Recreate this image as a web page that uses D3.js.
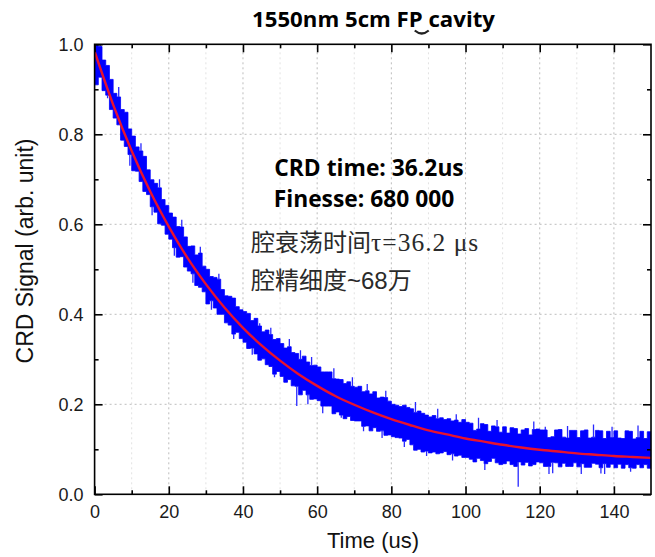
<!DOCTYPE html>
<html>
<head>
<meta charset="utf-8">
<script src="https://cdn.jsdelivr.net/npm/d3@7"></script>
<style>
  html, body { margin: 0; padding: 0; background: #fff; }
  svg { display: block; }
</style>
</head>
<body>
<svg id="chart" width="655" height="557"></svg>
<script>
(function () {
    'use strict';

    const WIDTH = 655;
    const HEIGHT = 557;

    // ring-down trace, min / max of the signal for each microsecond (0..150 us)
    const signalHigh = [
        1.000, 0.995, 0.965, 0.953, 0.922, 0.891, 0.883, 0.855, 0.849, 0.812,
        0.796, 0.772, 0.763, 0.751, 0.721, 0.699, 0.691, 0.681, 0.655, 0.642,
        0.625, 0.616, 0.595, 0.594, 0.572, 0.551, 0.552, 0.532, 0.536, 0.507,
        0.500, 0.484, 0.482, 0.478, 0.455, 0.441, 0.440, 0.436, 0.417, 0.410,
        0.406, 0.402, 0.386, 0.391, 0.374, 0.361, 0.365, 0.355, 0.344, 0.346,
        0.335, 0.325, 0.328, 0.315, 0.313, 0.300, 0.307, 0.294, 0.286, 0.287,
        0.283, 0.272, 0.272, 0.272, 0.257, 0.256, 0.255, 0.246, 0.250, 0.240,
        0.238, 0.240, 0.228, 0.230, 0.223, 0.228, 0.214, 0.216, 0.215, 0.207,
        0.200, 0.198, 0.195, 0.198, 0.193, 0.190, 0.182, 0.185, 0.180, 0.176,
        0.172, 0.175, 0.168, 0.170, 0.166, 0.168, 0.163, 0.165, 0.160, 0.166,
        0.160, 0.158, 0.142, 0.145, 0.157, 0.155, 0.140, 0.152, 0.150, 0.138,
        0.150, 0.136, 0.148, 0.146, 0.134, 0.143, 0.146, 0.132, 0.144, 0.145,
        0.143, 0.143, 0.126, 0.128, 0.143, 0.144, 0.127, 0.125, 0.142, 0.142,
        0.126, 0.141, 0.143, 0.125, 0.127, 0.142, 0.141, 0.124, 0.140, 0.126,
        0.141, 0.125, 0.124, 0.141, 0.140, 0.123, 0.126, 0.140, 0.124, 0.139, 0.123
    ];
    const signalLow = [
        0.910, 0.927, 0.897, 0.887, 0.855, 0.836, 0.821, 0.787, 0.773, 0.755,
        0.719, 0.718, 0.695, 0.673, 0.666, 0.639, 0.627, 0.601, 0.598, 0.578,
        0.567, 0.548, 0.527, 0.528, 0.505, 0.496, 0.490, 0.464, 0.460, 0.450,
        0.423, 0.430, 0.414, 0.400, 0.400, 0.381, 0.376, 0.356, 0.360, 0.346,
        0.338, 0.324, 0.325, 0.312, 0.298, 0.301, 0.288, 0.284, 0.267, 0.273,
        0.262, 0.249, 0.255, 0.241, 0.240, 0.221, 0.231, 0.221, 0.211, 0.212,
        0.208, 0.196, 0.196, 0.196, 0.179, 0.183, 0.176, 0.168, 0.173, 0.164,
        0.163, 0.163, 0.151, 0.152, 0.141, 0.148, 0.140, 0.141, 0.131, 0.132,
        0.128, 0.126, 0.125, 0.118, 0.122, 0.110, 0.098, 0.100, 0.094, 0.096,
        0.092, 0.094, 0.090, 0.092, 0.095, 0.088, 0.090, 0.085, 0.087, 0.082,
        0.082, 0.078, 0.072, 0.080, 0.075, 0.068, 0.073, 0.080, 0.070, 0.066,
        0.068, 0.074, 0.066, 0.062, 0.072, 0.065, 0.071, 0.063, 0.066, 0.072,
        0.070, 0.062, 0.062, 0.071, 0.070, 0.061, 0.069, 0.062, 0.062, 0.070,
        0.061, 0.068, 0.060, 0.060, 0.069, 0.067, 0.059, 0.068, 0.060, 0.067,
        0.059, 0.067, 0.058, 0.066, 0.059, 0.058, 0.066, 0.059, 0.066, 0.058, 0.065
    ];

    // single-sample noise spikes [time us, value]
    const spikesUp = [
        [1.5, 1.0], [6.5, 0.905], [12.5, 0.78], [17.5, 0.70], [23.5, 0.61],
        [28.5, 0.55], [33.5, 0.49], [39.5, 0.41], [44.5, 0.38], [47.5, 0.37],
        [52.5, 0.345], [55.5, 0.32], [58.5, 0.305], [64.5, 0.28], [69.5, 0.26],
        [73.5, 0.245], [78.5, 0.23], [86.5, 0.205], [92.5, 0.19], [97.5, 0.178],
        [103.5, 0.17], [108.5, 0.165], [118.4, 0.162], [121.5, 0.15], [127.5, 0.152],
        [134.5, 0.155], [139.5, 0.15], [146.5, 0.153]
    ];
    const spikesDown = [
        [3.5, 0.88], [9.5, 0.73], [15.5, 0.62], [21.5, 0.53], [26.5, 0.47],
        [31.5, 0.41], [37.5, 0.345], [42.5, 0.31], [48.5, 0.26], [54.5, 0.196],
        [57.5, 0.20], [61.5, 0.18], [66.5, 0.17], [72.5, 0.14], [77.5, 0.125],
        [83.5, 0.105], [89.5, 0.085], [96.5, 0.075], [105.2, 0.054], [114.2, 0.017],
        [122.5, 0.045], [123.5, 0.047], [131.2, 0.045], [136.5, 0.046], [137.5, 0.045],
        [144.5, 0.05]
    ];

    // exponential fit (tau = 36.2 us)
    const fitTimes = [0, 5, 10, 15, 20, 25, 30, 35, 40, 45, 50, 55, 60, 65, 70, 75,
        80, 85, 90, 95, 100, 105, 110, 115, 120, 125, 130, 135, 140, 145, 150];
    const fitValues = [0.984, 0.866, 0.763, 0.673, 0.595, 0.526, 0.467, 0.415, 0.370,
        0.331, 0.297, 0.267, 0.241, 0.218, 0.199, 0.182, 0.167, 0.154, 0.142, 0.133,
        0.124, 0.117, 0.110, 0.104, 0.099, 0.095, 0.091, 0.088, 0.085, 0.083, 0.081];

    const xMajorTicks = [0, 20, 40, 60, 80, 100, 120, 140];
    const xMinorTicks = [10, 30, 50, 70, 90, 110, 130];
    const yMajorTicks = [0, 0.2, 0.4, 0.6, 0.8, 1.0];
    const yMinorTicks = [0.1, 0.3, 0.5, 0.7, 0.9];

    const svg = d3.select('#chart').attr('width', WIDTH).attr('height', HEIGHT);

    const x = d3.scaleLinear().domain([0, 150]).range([94.6, 651]);
    const y = d3.scaleLinear().domain([0, 1]).range([494.3, 44.3]);

    svg.append('defs').append('clipPath').attr('id', 'plot-clip')
        .append('rect')
        .attr('x', x(0)).attr('y', y(1))
        .attr('width', x(150) - x(0)).attr('height', y(0) - y(1));

    // grid
    let grid = svg.append('g');
    grid.selectAll('.vminor').data(xMinorTicks).join('line')
        .attr('x1', d => x(d)).attr('x2', d => x(d))
        .attr('y1', y(0)).attr('y2', y(1))
        .attr('stroke', '#e2e2e2').attr('stroke-dasharray', '2,3');
    grid.selectAll('.vmajor').data(xMajorTicks.slice(1)).join('line')
        .attr('x1', d => x(d)).attr('x2', d => x(d))
        .attr('y1', y(0)).attr('y2', y(1))
        .attr('stroke', '#bdbdbd').attr('stroke-dasharray', '2,3');
    grid.selectAll('.hmajor').data(yMajorTicks.slice(1, -1)).join('line')
        .attr('x1', x(0)).attr('x2', x(150))
        .attr('y1', d => y(d)).attr('y2', d => y(d))
        .attr('stroke', '#bdbdbd').attr('stroke-dasharray', '2,3');

    // trace
    let plot = svg.append('g').attr('clip-path', 'url(#plot-clip)');
    let band = signalHigh.map((hi, i) => ({t: i, hi: hi, lo: signalLow[i]}));

    plot.append('path')
        .datum(band)
        .attr('fill', '#0000ff')
        .attr('stroke', '#0000ff')
        .attr('stroke-width', 0.8)
        .attr('d', d3.area()
            .x(d => x(d.t))
            .y0(d => y(d.lo))
            .y1(d => y(d.hi))
            .curve(d3.curveStepAfter));

    plot.selectAll('.spike-up').data(spikesUp).join('line')
        .attr('x1', d => x(d[0])).attr('x2', d => x(d[0]))
        .attr('y1', d => y(signalHigh[Math.floor(d[0])])).attr('y2', d => y(d[1]))
        .attr('stroke', '#2828ff').attr('stroke-width', 1.3);
    plot.selectAll('.spike-down').data(spikesDown).join('line')
        .attr('x1', d => x(d[0])).attr('x2', d => x(d[0]))
        .attr('y1', d => y(signalLow[Math.floor(d[0])])).attr('y2', d => y(d[1]))
        .attr('stroke', '#2828ff').attr('stroke-width', 1.3);

    plot.append('path')
        .datum(fitTimes.map((t, i) => [t, fitValues[i]]))
        .attr('fill', 'none')
        .attr('stroke', '#e8122e')
        .attr('stroke-width', 2.4)
        .attr('d', d3.line()
            .x(d => x(d[0]))
            .y(d => y(d[1]))
            .curve(d3.curveMonotoneX));

    // axes, ticks pointing inward on all four sides
    function styleAxis(g) {
        g.select('.domain').remove();
        g.selectAll('.tick line').attr('stroke', '#000').attr('stroke-width', 1.6);
        g.selectAll('.tick text')
            .attr('fill', '#1a1a1a')
            .attr('font-family', '"Liberation Sans", Arial, sans-serif')
            .attr('font-size', 18);
    }

    svg.append('g').attr('transform', `translate(0,${y(0)})`)
        .call(d3.axisBottom(x).tickValues(xMajorTicks).tickSize(-8).tickPadding(11).tickFormat(d3.format('d')))
        .call(styleAxis);
    svg.append('g').attr('transform', `translate(0,${y(0)})`)
        .call(d3.axisBottom(x).tickValues(xMinorTicks).tickSize(-4).tickFormat(''))
        .call(styleAxis);
    svg.append('g').attr('transform', `translate(0,${y(1)})`)
        .call(d3.axisTop(x).tickValues(xMajorTicks).tickSize(-8).tickFormat(''))
        .call(styleAxis);
    svg.append('g').attr('transform', `translate(0,${y(1)})`)
        .call(d3.axisTop(x).tickValues(xMinorTicks).tickSize(-4).tickFormat(''))
        .call(styleAxis);

    svg.append('g').attr('transform', `translate(${x(0)},0)`)
        .call(d3.axisLeft(y).tickValues(yMajorTicks).tickSize(-8).tickPadding(11).tickFormat(d3.format('.1f')))
        .call(styleAxis);
    svg.append('g').attr('transform', `translate(${x(0)},0)`)
        .call(d3.axisLeft(y).tickValues(yMinorTicks).tickSize(-4).tickFormat(''))
        .call(styleAxis);
    svg.append('g').attr('transform', `translate(${x(150)},0)`)
        .call(d3.axisRight(y).tickValues(yMajorTicks).tickSize(-8).tickFormat(''))
        .call(styleAxis);
    svg.append('g').attr('transform', `translate(${x(150)},0)`)
        .call(d3.axisRight(y).tickValues(yMinorTicks).tickSize(-4).tickFormat(''))
        .call(styleAxis);

    svg.append('rect')
        .attr('x', x(0)).attr('y', y(1))
        .attr('width', x(150) - x(0)).attr('height', y(0) - y(1))
        .attr('fill', 'none').attr('stroke', '#000').attr('stroke-width', 1.6);

    // axis titles
    svg.append('text')
        .attr('x', 373).attr('y', 548)
        .attr('text-anchor', 'middle')
        .attr('font-family', '"Liberation Sans", Arial, sans-serif')
        .attr('font-size', 22)
        .attr('fill', '#111')
        .text('Time (us)');

    svg.append('text')
        .attr('transform', 'translate(33,251) rotate(-90)')
        .attr('text-anchor', 'middle')
        .attr('font-family', '"Liberation Sans", Arial, sans-serif')
        .attr('font-size', 23)
        .attr('fill', '#111')
        .text('CRD Signal (arb. unit)');

    // title
    let title = svg.append('text')
        .attr('x', 373.5).attr('y', 27)
        .attr('text-anchor', 'middle')
        .attr('font-family', '"Open Sans", sans-serif')
        .attr('font-weight', 'bold')
        .attr('font-size', 22.2)
        .attr('fill', '#000')
        .text('1550nm 5cm FP cavity');

    // small stroke under the "P" of the title
    let pIndex = title.text().indexOf('P');
    let pStart = title.node().getStartPositionOfChar(pIndex).x + 6;
    let pEnd = title.node().getEndPositionOfChar(pIndex).x + 6;
    svg.append('path')
        .attr('d', `M${pStart},30.5 Q${(pStart + pEnd) / 2},36.5 ${pEnd},30.5`)
        .attr('fill', 'none').attr('stroke', '#222').attr('stroke-width', 2.2);

    // annotations
    let notes = svg.append('g')
        .attr('font-family', '"Open Sans", sans-serif')
        .attr('font-weight', 'bold')
        .attr('font-size', 22.8)
        .attr('fill', '#000')
        .attr('text-anchor', 'middle');
    notes.append('text').attr('x', 369).attr('y', 176).text('CRD time: 36.2us');
    notes.append('text').attr('x', 364).attr('y', 206.5).text('Finesse: 680 000');

    let zh1 = svg.append('text')
        .attr('x', 251).attr('y', 251)
        .attr('fill', '#2a2a2a');
    zh1.append('tspan')
        .attr('font-family', '"Noto Sans CJK SC", sans-serif')
        .attr('font-size', 24)
        .text('腔衰荡时间');
    zh1.append('tspan')
        .attr('font-family', '"Liberation Serif", serif')
        .attr('font-size', 25.5)
        .attr('letter-spacing', 1)
        .text('τ=36.2 μs');

    let zh2 = svg.append('text')
        .attr('x', 251).attr('y', 289)
        .attr('fill', '#2a2a2a')
        .attr('font-size', 24);
    zh2.append('tspan')
        .attr('font-family', '"Noto Sans CJK SC", sans-serif')
        .text('腔精细度');
    zh2.append('tspan')
        .attr('font-family', '"Liberation Sans", Arial, sans-serif')
        .text('~68');
    zh2.append('tspan')
        .attr('font-family', '"Noto Sans CJK SC", sans-serif')
        .text('万');
})();
</script>
</body>
</html>
